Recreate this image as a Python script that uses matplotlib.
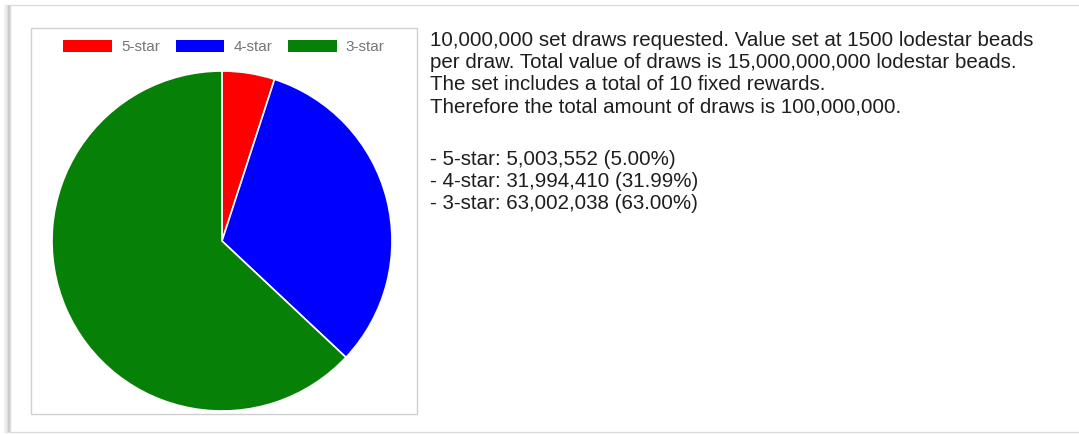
import matplotlib.pyplot as plt
from matplotlib.patches import Rectangle, Patch

labels = ["5-star", "4-star", "3-star"]
counts = [5003552, 31994410, 63002038]
colors = ["#ff0000", "#0000ff", "#078007"]

set_draws = 10000000
bead_cost = 1500
fixed_rewards = 10
total_draws = set_draws * fixed_rewards

W, H = 1079, 434
fig = plt.figure(figsize=(W / 100, H / 100), dpi=100)
fig.patch.set_facecolor("white")

# background layer in pixel units (y down)
bg = fig.add_axes([0, 0, 1, 1])
bg.set_xlim(0, W)
bg.set_ylim(H, 0)
bg.axis("off")

# soft shadow on the left/bottom of the card
for i, a in enumerate([0.03, 0.05, 0.08, 0.12, 0.16]):
    bg.add_patch(Rectangle((2.5 + i * 1.4, 5), W, 428.5 - i * 0.3, facecolor="black",
                           alpha=a * 0.5, edgecolor="none"))
bg.add_patch(Rectangle((9.5, 5), W, 427, facecolor="white", edgecolor="#dcdcdc", lw=1))

# chart frame
bg.add_patch(Rectangle((30.5, 27.5), 386, 386, facecolor="white", edgecolor="#d0d0d0", lw=1))

# pie
cx, cy, r = 222, 241, 170
pie_ax = fig.add_axes([(cx - r) / W, 1 - (cy + r) / H, 2 * r / W, 2 * r / H])
pie_ax.pie(counts, colors=colors, startangle=90, counterclock=False,
           wedgeprops=dict(edgecolor="white", linewidth=1.2), radius=1.0)
pie_ax.set_xlim(-1, 1)
pie_ax.set_ylim(-1, 1)
pie_ax.set_aspect("auto")

handles = [Patch(facecolor=c, edgecolor="none") for c in colors]
fig.legend(handles, labels, loc="center", bbox_to_anchor=(224 / W, 1 - 47 / H), ncol=3,
           frameon=False, labelcolor="#757575", handlelength=3.2,
           handleheight=0.85, handletextpad=0.6, columnspacing=1.0,
           prop={"family": "Liberation Sans", "size": 11})

pct = [c / total_draws * 100 for c in counts]
lines = [
    f"{set_draws:,} set draws requested. Value set at {bead_cost} lodestar beads",
    f"per draw. Total value of draws is {set_draws * bead_cost:,} lodestar beads.",
    f"The set includes a total of {fixed_rewards} fixed rewards.",
    f"Therefore the total amount of draws is {total_draws:,}.",
    "",
] + [f"- {l}: {c:,} ({p:.2f}%)" for l, c, p in zip(labels, counts, pct)]

y = 40
for line in lines:
    if line == "":
        y += 29.5
        continue
    bg.text(430, y, line, fontsize=14.8, family="Liberation Sans", color="#1e1e1e",
            va="center", ha="left")
    y += 22.4

fig.savefig("out.png", dpi=100)
